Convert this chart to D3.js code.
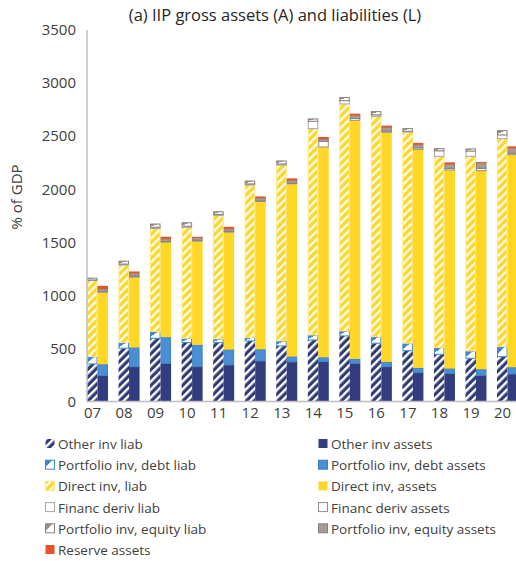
<!DOCTYPE html>
<html><head><meta charset="utf-8">
<script src="https://cdn.jsdelivr.net/npm/d3@7"></script>
<style>body{margin:0;background:#fff}svg{display:block}</style>
</head><body>
<svg id="c" width="516" height="561"></svg>
<script>
const years = ["07","08","09","10","11","12","13","14","15","16","17","18","19","20"];
const yTicks = [0,500,1000,1500,2000,2500,3000,3500];
// Liabilities (% of GDP)
const otherInvLiab   = [354,502,596,555,555,571,524,580,618,549,479,445,407,423];
const portDebtLiab   = [69,53,63,41,35,31,47,47,47,62,70,63,69,94];
const directInvLiab  = [717,730,971,1044,1163,1438,1657,1944,2139,2076,1990,1802,1834,1959];
const finDerivLiab   = [5,10,12,12,10,10,10,69,30,14,7,52,49,36];
const portEqLiab     = [17,27,30,32,25,27,28,22,30,30,25,20,20,40];
// Assets (% of GDP)
const otherInvAssets = [244,328,360,328,344,382,373,376,360,328,272,266,247,259];
const portDebtAssets = [107,180,246,205,145,110,50,41,41,45,44,44,57,64];
const directInvAssets= [679,664,896,978,1107,1393,1629,1981,2248,2163,2059,1871,1871,2002];
const finDerivAssets = [5,10,5,8,5,5,5,53,17,12,15,15,22,13];
const portEqAssets   = [25,27,25,25,25,27,27,22,30,35,30,40,52,50];
const reserveAssets  = [30,16,20,8,20,15,18,19,16,16,16,17,8,16];

const svg = d3.select("#c");
const font = "'Open Sans', 'Liberation Sans', sans-serif";
const defs = svg.append("defs");
function stripes(id, color, whiteW){
  const p = defs.append("pattern").attr("id",id).attr("patternUnits","userSpaceOnUse")
    .attr("width",5.6).attr("height",5.6).attr("patternTransform","rotate(45)");
  p.append("rect").attr("width",5.6).attr("height",5.6).attr("fill",color);
  p.append("rect").attr("width",whiteW).attr("height",5.6).attr("fill","#fff");
}
stripes("hOther","#2f3b78",2.4);
stripes("hDirect","#ffd526",2.2);
function diag(id, c1){
  const g = defs.append("linearGradient").attr("id",id).attr("x1",0).attr("y1",0).attr("x2",1).attr("y2",1);
  g.append("stop").attr("offset","0%").attr("stop-color",c1);
  g.append("stop").attr("offset","38%").attr("stop-color",c1);
  g.append("stop").attr("offset","40%").attr("stop-color","#fff");
  g.append("stop").attr("offset","100%").attr("stop-color","#fff");
}
diag("gDebt","#3f86cf");
diag("gEq","#9c8f88");

const liabKeys = [
  {k:"other", v:otherInvLiab, fill:"url(#hOther)", stroke:"none", label:"Other inv liab"},
  {k:"debt", v:portDebtLiab, fill:"url(#gDebt)", stroke:"#3f86cf", label:"Portfolio inv, debt liab"},
  {k:"direct", v:directInvLiab, fill:"url(#hDirect)", stroke:"#ffe680", label:"Direct inv, liab"},
  {k:"deriv", v:finDerivLiab, fill:"#fff", stroke:"#a6a6a6", label:"Financ deriv liab"},
  {k:"eq", v:portEqLiab, fill:"url(#gEq)", stroke:"#8c807a", label:"Portfolio inv, equity liab"}
];
const assetKeys = [
  {k:"other", v:otherInvAssets, fill:"#313d7c", stroke:"none", label:"Other inv assets"},
  {k:"debt", v:portDebtAssets, fill:"#4a8fd4", stroke:"#3f7fc0", label:"Portfolio inv, debt assets"},
  {k:"direct", v:directInvAssets, fill:"#ffd726", stroke:"none", label:"Direct inv, assets"},
  {k:"deriv", v:finDerivAssets, fill:"#fff", stroke:"#8f8f8f", label:"Financ deriv assets"},
  {k:"eq", v:portEqAssets, fill:"#a89b94", stroke:"#8c807a", label:"Portfolio inv, equity assets"},
  {k:"res", v:reserveAssets, fill:"#e8532a", stroke:"none", label:"Reserve assets"}
];

const y = d3.scaleLinear().domain([0,3500]).range([401.5,30]);
const x = d3.scaleBand().domain(years).range([87, 87+13*31.54+21]).paddingInner(0.334).paddingOuter(0);
const xs = d3.scaleBand().domain(["L","A"]).range([0, x.bandwidth()]);

function drawStack(keys, side){
  const rows = years.map((yr,i)=>{ const o={year:yr}; keys.forEach(s=>o[s.k]=s.v[i]); return o; });
  const st = d3.stack().keys(keys.map(s=>s.k))(rows);
  st.forEach((layer,li)=>{
    const s = keys[li];
    svg.append("g").selectAll("rect").data(layer).join("rect")
      .attr("x", d=>x(d.data.year)+xs(side)+(s.stroke!=="none"?0.5:0))
      .attr("width", xs.bandwidth()-(s.stroke!=="none"?1:0))
      .attr("y", d=>y(d[1]))
      .attr("height", d=>Math.max(0,y(d[0])-y(d[1])))
      .attr("fill", s.fill).attr("stroke", s.stroke).attr("stroke-width", s.stroke!=="none"?1:0);
  });
}
drawStack(liabKeys,"L");
drawStack(assetKeys,"A");

// axes
svg.append("line").attr("x1",87).attr("x2",516).attr("y1",401.5).attr("y2",401.5).attr("stroke","#bfbfbf").attr("stroke-width",1.5);
svg.append("line").attr("x1",87).attr("x2",87).attr("y1",30).attr("y2",401.5).attr("stroke","#bfbfbf").attr("stroke-width",1.5);
const ya = svg.append("g").attr("transform","translate(80,0)")
  .call(d3.axisLeft(y).tickValues(yTicks).tickSize(0).tickPadding(4).tickFormat(d3.format("d")));
ya.select(".domain").remove();
ya.selectAll("text").attr("font-family",font).attr("font-size",15).attr("fill","#404040");
const xa = svg.append("g").attr("transform","translate(-5,401.5)")
  .call(d3.axisBottom(x).tickSize(0).tickPadding(6));
xa.select(".domain").remove();
xa.selectAll("text").attr("font-family",font).attr("font-size",15).attr("fill","#404040");

svg.append("text").attr("x",275).attr("y",21).attr("text-anchor","middle")
  .attr("font-family",font).attr("font-size",16.5).attr("fill","#262626")
  .text("(a) IIP gross assets (A) and liabilities (L)");
svg.append("text").attr("transform","translate(22,197) rotate(-90)").attr("text-anchor","middle")
  .attr("font-family",font).attr("font-size",15).attr("fill","#404040").text("% of GDP");

// legend
const legendItems = [];
for(let i=0;i<6;i++){
  if(liabKeys[i]) legendItems.push({s:liabKeys[i], col:0, row:i});
  if(assetKeys[i]) legendItems.push({s:assetKeys[i], col:assetKeys[i].k==="res"?0:1, row:i});
}
const lg = svg.append("g");
legendItems.forEach(it=>{
  const gx = it.col===0?45:318, gy = 444 + it.row*21.2;
  const fill = it.s.fill==="url(#hOther)"||it.s.fill==="url(#hDirect)" ? it.s.fill : it.s.fill;
  lg.append("rect").attr("x",gx+0.5).attr("y",gy-5).attr("width",9).attr("height",9)
    .attr("fill",fill).attr("stroke",it.s.stroke==="none"?"none":it.s.stroke).attr("stroke-width",1);
  lg.append("text").attr("x",gx+13).attr("y",gy+5).attr("font-family",font).attr("font-size",13.5)
    .attr("fill","#404040").text(it.s.label);
});
</script>
</body></html>
